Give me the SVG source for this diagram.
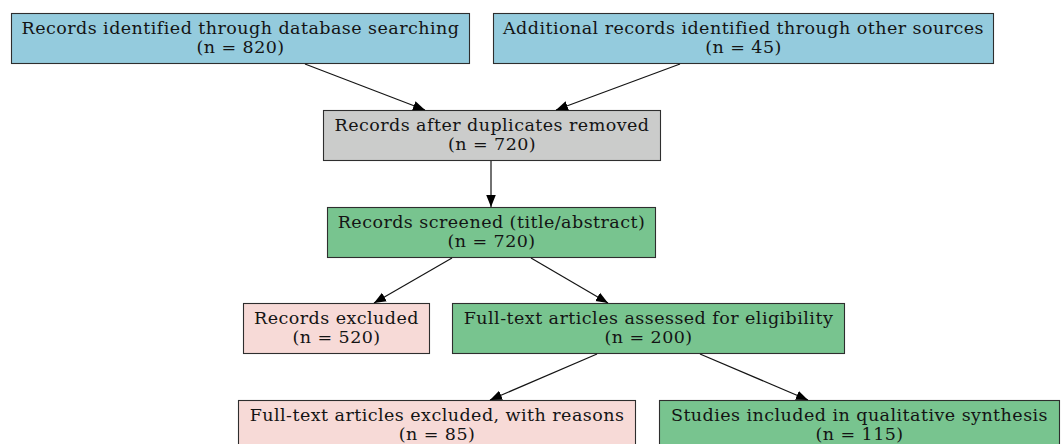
<svg xmlns="http://www.w3.org/2000/svg" width="1061" height="444" viewBox="0 0 1061 444">
  <style>
    .box { stroke: #2e2e2e; stroke-width: 1.1; }
    .src { fill: #94cbdd; }
    .dup { fill: #cbcccb; }
    .inc { fill: #78c48f; }
    .exc { fill: #f7dad7; }
    text { font-family: "DejaVu Serif", serif; font-size: 17.5px; letter-spacing: 0.45px; fill: #141414; text-anchor: middle; }
    .edge { stroke: #141414; stroke-width: 1.2; fill: none; marker-end: url(#arrow); }
  </style>
  <defs>
    <marker id="arrow" viewBox="0 0 10 10" refX="10" refY="5" markerWidth="12" markerHeight="12" markerUnits="userSpaceOnUse" orient="auto">
      <path d="M0,1 L10,5 L0,9 z" fill="#000000"/>
    </marker>
  </defs>
  <rect width="1061" height="444" fill="#ffffff"/>

  <g id="db_search">
    <rect class="box src" x="11.5" y="13.5" width="458" height="50"/>
    <text x="240.5" y="34">Records identified through database searching</text>
    <text x="240.5" y="53">(n = 820)</text>
  </g>
  <g id="other_sources">
    <rect class="box src" x="493.5" y="13.5" width="500" height="50"/>
    <text x="743.5" y="34">Additional records identified through other sources</text>
    <text x="743.5" y="53">(n = 45)</text>
  </g>
  <g id="deduplicated">
    <rect class="box dup" x="323.5" y="110.5" width="337" height="50"/>
    <text x="492" y="131">Records after duplicates removed</text>
    <text x="492" y="150">(n = 720)</text>
  </g>
  <g id="screened">
    <rect class="box inc" x="327.5" y="207.5" width="328" height="50"/>
    <text x="491.5" y="228">Records screened (title/abstract)</text>
    <text x="491.5" y="247">(n = 720)</text>
  </g>
  <g id="records_excluded">
    <rect class="box exc" x="243.5" y="303.5" width="186" height="50"/>
    <text x="336.5" y="324">Records excluded</text>
    <text x="336.5" y="343">(n = 520)</text>
  </g>
  <g id="fulltext_assessed">
    <rect class="box inc" x="452.5" y="303.5" width="392" height="50"/>
    <text x="648.5" y="324">Full-text articles assessed for eligibility</text>
    <text x="648.5" y="343">(n = 200)</text>
  </g>
  <g id="fulltext_excluded">
    <rect class="box exc" x="238.5" y="400.5" width="397" height="50"/>
    <text x="437" y="421">Full-text articles excluded, with reasons</text>
    <text x="437" y="440">(n = 85)</text>
  </g>
  <g id="included">
    <rect class="box inc" x="659.5" y="400.5" width="400" height="50"/>
    <text x="859.5" y="421">Studies included in qualitative synthesis</text>
    <text x="859.5" y="440">(n = 115)</text>
  </g>

  <g id="connectors">
    <line class="edge" x1="305" y1="64" x2="425" y2="110"/>
    <line class="edge" x1="680" y1="64" x2="556" y2="110"/>
    <line class="edge" x1="491" y1="161" x2="491" y2="207"/>
    <line class="edge" x1="452" y1="258" x2="374" y2="303"/>
    <line class="edge" x1="531" y1="258" x2="608" y2="303"/>
    <line class="edge" x1="597" y1="354" x2="490" y2="400"/>
    <line class="edge" x1="700" y1="354" x2="808" y2="400"/>
  </g>
</svg>
